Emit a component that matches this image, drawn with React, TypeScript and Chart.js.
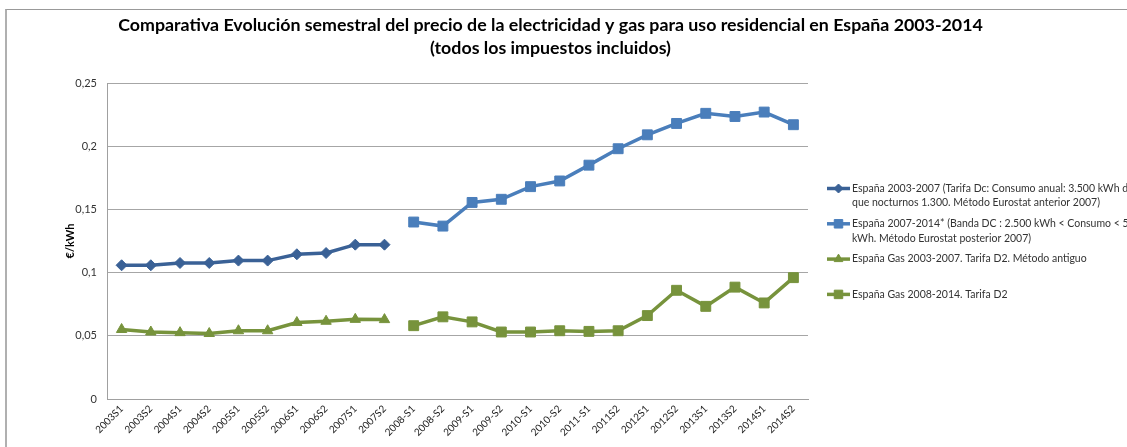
import React, { useEffect, useRef } from 'react';
import { Chart, registerables } from 'chart.js';
import { drawPoint } from 'chart.js/helpers';

Chart.register(...registerables);

const categories = [
  '2003S1', '2003S2', '2004S1', '2004S2', '2005S1', '2005S2', '2006S1', '2006S2', '2007S1', '2007S2',
  '2008-S1', '2008-S2', '2009-S1', '2009-S2', '2010-S1', '2010-S2', '2011-S1', '2011S2',
  '2012S1', '2012S2', '2013S1', '2013S2', '2014S1', '2014S2',
];

const elec2003_2007 = [
  0.1058, 0.1058, 0.1076, 0.1076, 0.1095, 0.1095, 0.1145, 0.1155, 0.1221, 0.1221,
  null, null, null, null, null, null, null, null, null, null, null, null, null, null,
];

const elec2007_2014 = [
  null, null, null, null, null, null, null, null, null, null,
  0.140, 0.1368, 0.1555, 0.158, 0.168, 0.1725, 0.185, 0.198, 0.209, 0.218, 0.226, 0.2235, 0.227, 0.217,
];

const gas2003_2007 = [
  0.055, 0.053, 0.0525, 0.0518, 0.054, 0.054, 0.0605, 0.0615, 0.063, 0.0628,
  null, null, null, null, null, null, null, null, null, null, null, null, null, null,
];

const gas2008_2014 = [
  null, null, null, null, null, null, null, null, null, null,
  0.058, 0.065, 0.061, 0.053, 0.053, 0.054, 0.0535, 0.054, 0.066, 0.086, 0.0733, 0.0885, 0.076, 0.096,
];

const yTickLabels = ['0', '0,05', '0,1', '0,15', '0,2', '0,25'];

const titleLines = [
  'Comparativa Evolución semestral del precio de la electricidad y gas para uso residencial en España 2003-2014',
  '(todos los impuestos incluidos)',
];

const yAxisTitle = '€/kWh';

const legendLines = [
  ['España 2003-2007 (Tarifa Dc: Consumo anual: 3.500 kWh de los', 'que nocturnos 1.300. Método Eurostat anterior 2007)'],
  ['España 2007-2014* (Banda DC : 2.500 kWh < Consumo < 5.000', 'kWh. Método Eurostat posterior 2007)'],
  ['España Gas 2003-2007. Tarifa D2. Método antiguo'],
  ['España Gas 2008-2014. Tarifa D2'],
];

const sideLegend = {
  id: 'sideLegend',
  afterDraw(chart: any) {
    const ctx = chart.ctx;
    const area = chart.chartArea;
    const x0 = area.right + 19;
    const x1 = x0 + 23;
    const textX = x1 + 2;
    const yStart = 188.5;
    const slot = 35.3;
    const lineH = 14.5;
    ctx.save();
    chart.data.datasets.forEach((ds: any, i: number) => {
      const y = yStart + i * slot;
      ctx.strokeStyle = ds.borderColor;
      ctx.lineWidth = ds.borderWidth;
      ctx.beginPath();
      ctx.moveTo(x0, y);
      ctx.lineTo(x1, y);
      ctx.stroke();
      ctx.fillStyle = ds.backgroundColor;
      ctx.strokeStyle = ds.borderColor;
      ctx.lineWidth = 1;
      drawPoint(ctx, { pointStyle: ds.pointStyle, radius: ds.pointRadius - 1, rotation: 0, borderWidth: 1 }, (x0 + x1) / 2, y);
      ctx.fillStyle = '#333';
      ctx.font = '10.5px Lato';
      ctx.textAlign = 'left';
      ctx.textBaseline = 'middle';
      legendLines[i].forEach((t, j) => ctx.fillText(t, textX, y + j * lineH));
    });
    ctx.restore();
  },
};

export default function App() {
  const ref = useRef<HTMLCanvasElement | null>(null);

  useEffect(() => {
    if (!ref.current) return;
    const dark = '#3A6196';
    const light = '#4A7EBB';
    const green = '#77933C';
    const tickFont = { family: 'Lato', size: 11 };
    const chart = new Chart(ref.current, {
      type: 'line',
      data: {
        labels: categories,
        datasets: [
          { label: legendLines[0].join(' '), data: elec2003_2007, borderColor: dark, backgroundColor: dark, borderWidth: 3.5, pointStyle: 'rectRot', pointRadius: 5.5, pointBorderWidth: 1, spanGaps: false, tension: 0 },
          { label: legendLines[1].join(' '), data: elec2007_2014, borderColor: light, backgroundColor: light, borderWidth: 3.5, pointStyle: 'rect', pointRadius: 7, pointBorderWidth: 1, spanGaps: false, tension: 0 },
          { label: legendLines[2].join(' '), data: gas2003_2007, borderColor: green, backgroundColor: green, borderWidth: 3.5, pointStyle: 'triangle', pointRadius: 6, pointBorderWidth: 1, spanGaps: false, tension: 0 },
          { label: legendLines[3].join(' '), data: gas2008_2014, borderColor: green, backgroundColor: green, borderWidth: 3.5, pointStyle: 'rect', pointRadius: 7, pointBorderWidth: 1, spanGaps: false, tension: 0 },
        ] as any,
      },
      options: {
        animation: false,
        responsive: false,
        devicePixelRatio: 1,
        layout: { padding: { left: 0, right: 26, top: 0, bottom: 0 } },
        plugins: {
          legend: { display: false },
          tooltip: { enabled: false },
          title: {
            display: true,
            text: titleLines,
            color: '#000',
            font: { family: 'Lato', size: 17.8, weight: 'bold', lineHeight: 23 / 17.8 },
            padding: { top: 13.5, bottom: 23.5 },
          },
        },
        scales: {
          x: {
            offset: true,
            grid: { display: false, drawTicks: false },
            border: { display: true, color: '#a0a0a0', width: 1 },
            ticks: { autoSkip: false, maxRotation: 45, minRotation: 45, padding: 4, color: '#222', font: { family: 'Lato', size: 10 } },
            afterFit: (s: any) => { s.height = 48; },
          },
          y: {
            min: 0,
            max: 0.25,
            ticks: { stepSize: 0.05, padding: 10, color: '#333', font: tickFont, callback: (_v: any, i: number) => yTickLabels[i] },
            grid: { color: '#a6a6a6', drawTicks: false },
            border: { display: true, color: '#a0a0a0', width: 1 },
            title: { display: true, text: yAxisTitle, color: '#000', font: { family: 'Lato', size: 11, weight: 'bold' }, padding: { top: 64, bottom: 0 } },
            afterFit: (s: any) => { s.width = 107; },
          },
          legendSpace: {
            type: 'linear',
            position: 'right',
            display: true,
            grid: { display: false, drawTicks: false },
            ticks: { display: false },
            border: { display: false },
            afterFit: (s: any) => { s.width = 293; },
          },
        },
      } as any,
      plugins: [sideLegend],
    });
    return () => chart.destroy();
  }, []);

  return (
    <div style={{ position: 'absolute', left: 0, top: 0, width: 1127, height: 447, background: '#fff' }}>
      <div style={{ position: 'absolute', left: 5, top: 9, width: 1130, height: 450, borderLeft: '2px solid #b0b0b0', borderTop: '1px solid #999' }} />
      <canvas ref={ref} width={1127} height={447} style={{ position: 'absolute', left: 0, top: 0, display: 'block' }} />
    </div>
  );
}
